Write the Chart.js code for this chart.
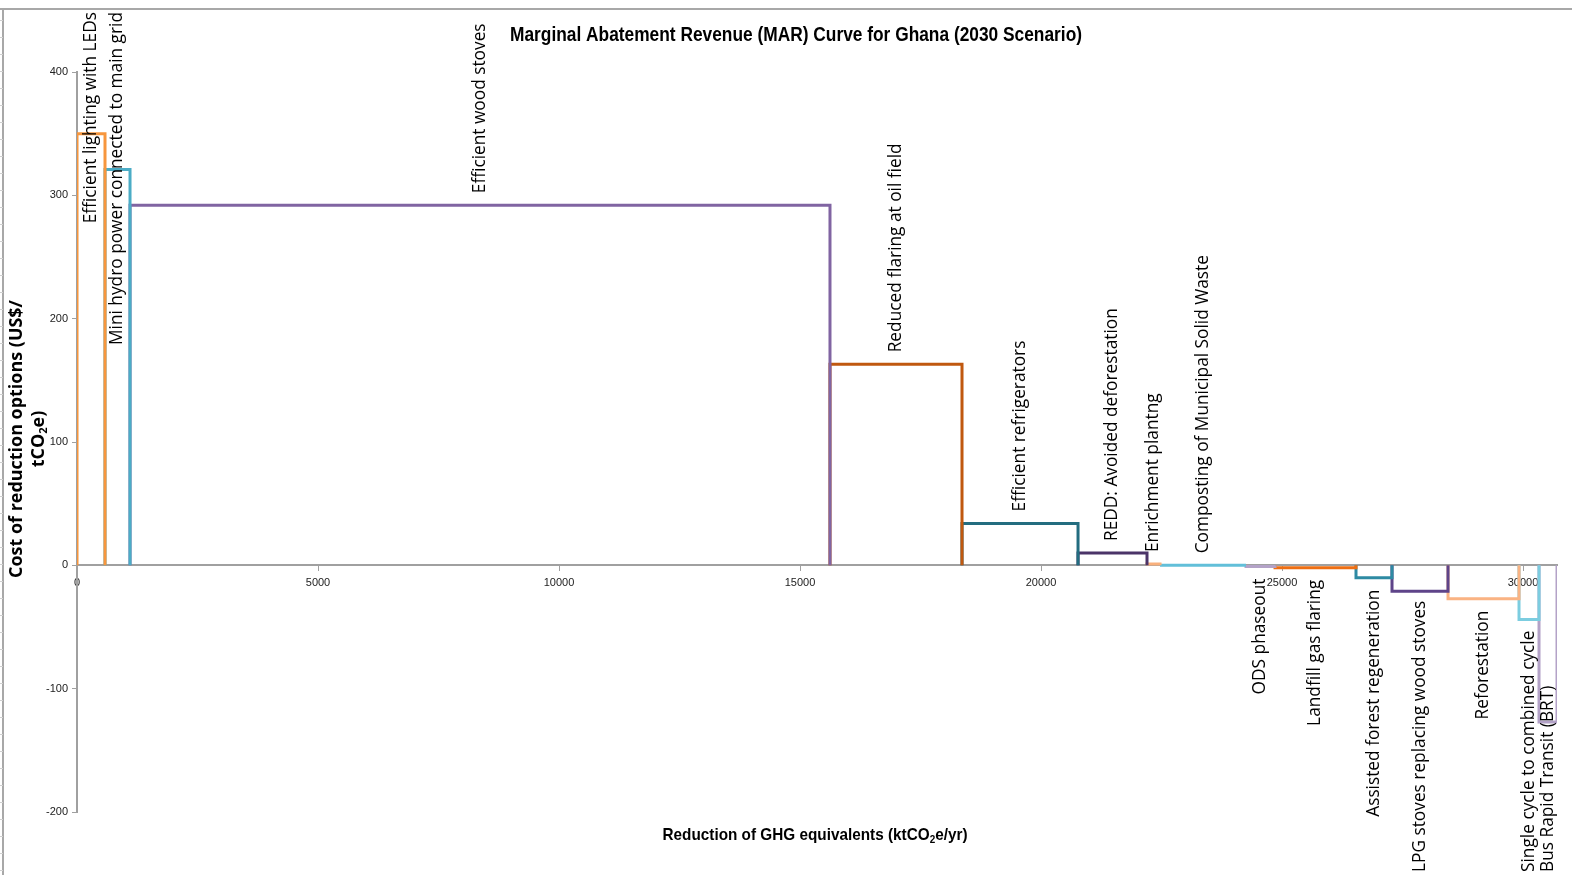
<!DOCTYPE html>
<html>
  <head>
    <meta charset="UTF-8" />
    <title>MAR Curve Ghana 2030</title>
    <style>
      html,
      body {
        margin: 0;
        padding: 0;
        width: 100%;
        height: 100%;
        background: #fff;
      }
      .chart-container {
        width: 1572px;
        height: 875px;
        position: relative;
      }
    </style>
    <script src="https://cdn.jsdelivr.net/npm/chart.js"></script>
  </head>
  <body>
    <div class="chart-container">
      <canvas id="mac"></canvas>
    </div>
    <script>
      // reduction options, left to right
      const categories = [
        "Efficient lighting with LEDs",
        "Mini hydro power connected to main grid",
        "Efficient wood stoves",
        "Reduced flaring at oil field",
        "Efficient refrigerators",
        "REDD: Avoided deforestation",
        "Enrichment plantng",
        "Composting of Municipal Solid Waste",
        "ODS phaseout",
        "Landfill gas flaring",
        "Assisted forest regeneration",
        "LPG stoves replacing wood stoves",
        "Reforestation",
        "Single cycle to combined cycle",
        "Bus Rapid Transit (BRT)",
      ];
      // abatement potential (ktCO2e/yr) = bar widths
      const reductions = [581, 519, 14522, 2739, 2407, 1431, 270, 1784, 602, 1680, 747, 1162, 1473, 415, 373];
      // cost (US$/tCO2e) = bar heights
      const costs = [350, 321, 292, 163, 34, 10, 1, 0, -1, -2, -10, -21, -27, -44, -127];
      const colors = [
        "#f7963d", "#4bacc6", "#8064a2", "#c0580f", "#236d80",
        "#4b3468", "#f9b07c", "#62bfd9", "#b3a2c7", "#ee6e12",
        "#2e8aa3", "#5e4489", "#fab383", "#7ccde0", "#b3a2c7",
      ];
      const xTicks = [0, 5000, 10000, 15000, 20000, 25000, 30000];
      const yTicks = [-200, -100, 0, 100, 200, 300, 400];

      const total = reductions.reduce((a, b) => a + b, 0);

      // one open rectangle per option
      let start = 0;
      const datasets = categories.map((name, i) => {
        const end = start + reductions[i];
        const ds = {
          label: name,
          data: [
            { x: start, y: 0 },
            { x: start, y: costs[i] },
            { x: end, y: costs[i] },
            { x: end, y: 0 },
          ],
          borderColor: colors[i],
          backgroundColor: colors[i],
          borderWidth: 3,
          pointRadius: 0,
          fill: false,
          tension: 0,
          borderJoinStyle: "miter",
          _from: start,
          _to: end,
        };
        start = end;
        return ds;
      });

      const LABEL_FONT = "17.3px 'Open Sans', sans-serif";

      // centred text built of parts (for the subscript 2), squeezed to a width if given
      function drawParts(ctx, parts, font, subFont, fitWidth) {
        let w = 0;
        parts.forEach((p) => {
          ctx.font = p.sub ? subFont : font;
          p.w = ctx.measureText(p.t).width;
          w += p.w;
        });
        const k = fitWidth ? fitWidth / w : 1;
        ctx.save();
        ctx.scale(k, 1);
        let x = -w / 2;
        ctx.textAlign = "left";
        parts.forEach((p) => {
          ctx.font = p.sub ? subFont : font;
          ctx.fillText(p.t, x, p.sub ? 5 : 0);
          x += p.w;
        });
        ctx.restore();
      }

      const decorations = {
        id: "decorations",
        beforeDraw(chart) {
          const ctx = chart.ctx;
          ctx.save();
          ctx.fillStyle = "#fff";
          ctx.fillRect(0, 0, chart.width, chart.height);
          // sheet frame
          ctx.strokeStyle = "#a8a8a8";
          ctx.lineWidth = 2;
          ctx.beginPath();
          ctx.moveTo(0, 9);
          ctx.lineTo(chart.width, 9);
          ctx.moveTo(3, 9);
          ctx.lineTo(3, chart.height);
          ctx.stroke();
          ctx.lineWidth = 1;
          ctx.strokeStyle = "#d0d0d0";
          ctx.beginPath();
          for (let y = 20; y < chart.height; y += 17) {
            ctx.moveTo(0, y + 0.5);
            ctx.lineTo(3, y + 0.5);
          }
          ctx.stroke();
          ctx.restore();
        },
        afterDatasetsDraw(chart) {
          const ctx = chart.ctx;
          const xs = chart.scales.x;
          const ys = chart.scales.y;
          ctx.save();
          ctx.fillStyle = "#000";
          ctx.font = LABEL_FONT;
          ctx.textBaseline = "middle";
          chart.data.datasets.forEach((ds, i) => {
            const cx = (xs.getPixelForValue(ds._from) + xs.getPixelForValue(ds._to)) / 2;
            const edge = ys.getPixelForValue(costs[i]);
            const len = ctx.measureText(ds.label).width;
            let bottom;
            if (costs[i] >= 0) {
              bottom = edge - 12;
              if (bottom - len < 12) bottom = 12 + len;
            } else {
              let top = Math.max(edge, ys.getPixelForValue(0)) + 12;
              if (top + len > 872) top = 872 - len;
              bottom = top + len;
            }
            ctx.save();
            ctx.translate(cx, bottom);
            ctx.rotate(-Math.PI / 2);
            ctx.textAlign = "left";
            ctx.fillText(ds.label, 0, 0);
            ctx.restore();
          });

          // title
          ctx.save();
          ctx.translate(796, 35);
          drawParts(
            ctx,
            [{ t: "Marginal Abatement Revenue (MAR) Curve for Ghana (2030 Scenario)" }],
            "bold 20px 'Liberation Sans', sans-serif",
            "",
            572
          );
          ctx.restore();

          // x title
          ctx.save();
          ctx.translate(815, 835);
          drawParts(
            ctx,
            [{ t: "Reduction of GHG equivalents (ktCO" }, { t: "2", sub: true }, { t: "e/yr)" }],
            "bold 17px 'Liberation Sans', sans-serif",
            "bold 11px 'Liberation Sans', sans-serif",
            305
          );
          ctx.restore();

          // y title
          ctx.save();
          ctx.translate(17, 439);
          ctx.rotate(-Math.PI / 2);
          drawParts(ctx, [{ t: "Cost of reduction options (US$/" }], "bold 18px 'Open Sans', sans-serif", "", 278);
          ctx.translate(0, 22);
          drawParts(
            ctx,
            [{ t: "tCO" }, { t: "2", sub: true }, { t: "e)" }],
            "bold 18px 'Open Sans', sans-serif",
            "bold 11px 'Open Sans', sans-serif"
          );
          ctx.restore();
          ctx.restore();
        },
      };

      const tickFont = { family: "'Liberation Sans', sans-serif", size: 11 };

      new Chart(document.getElementById("mac").getContext("2d"), {
        type: "line",
        data: { datasets },
        options: {
          responsive: true,
          maintainAspectRatio: false,
          animation: false,
          layout: { padding: { left: 0, top: 72, right: 15, bottom: 63 } },
          plugins: {
            legend: { display: false },
            tooltip: { enabled: false },
          },
          scales: {
            x: {
              type: "linear",
              position: { y: 0 },
              min: 0,
              max: total,
              afterBuildTicks: (s) => {
                s.ticks = xTicks.map((v) => ({ value: v }));
              },
              grid: { drawOnChartArea: false, tickLength: 5, color: "#a0a0a0" },
              border: { color: "#a0a0a0", width: 2 },
              ticks: { color: "#222", font: tickFont, maxRotation: 0, padding: 6, callback: (v) => String(v) },
            },
            y: {
              min: -200,
              max: 400,
              afterBuildTicks: (s) => {
                s.ticks = yTicks.map((v) => ({ value: v }));
              },
              afterFit: (s) => {
                s.width = 77;
              },
              grid: { drawOnChartArea: false, tickLength: 5, color: "#a0a0a0" },
              border: { color: "#a0a0a0", width: 2 },
              ticks: { color: "#222", font: tickFont, padding: 4, callback: (v) => String(v) },
            },
          },
        },
        plugins: [decorations],
      });
    </script>
  </body>
</html>
